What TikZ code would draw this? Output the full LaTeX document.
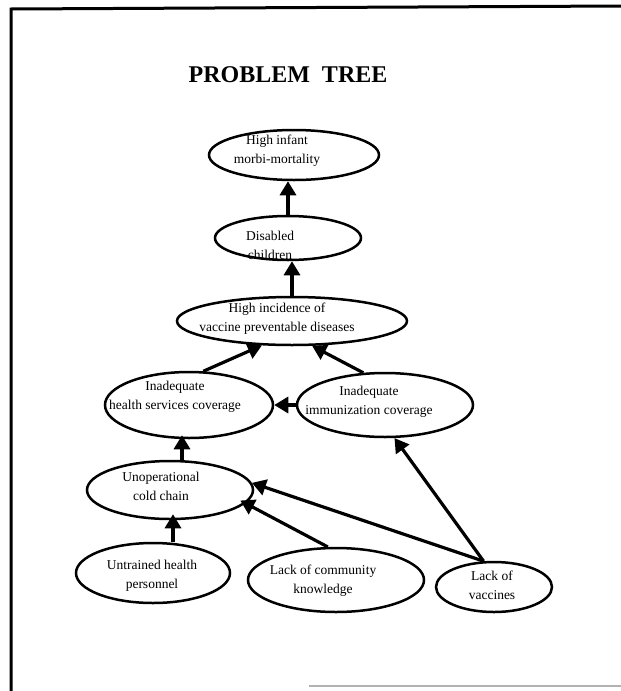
\documentclass[tikz,border=0pt]{standalone}
\usepackage{fontspec}
\setmainfont{Liberation Serif}
\usetikzlibrary{arrows.meta,shapes.geometric}
\begin{document}
\begin{tikzpicture}[x=1pt,y=-1pt,
  ell/.style={draw, ellipse, line width=2.5pt, inner sep=0pt},
  lbl/.style={font=\fontsize{13.5}{19}\selectfont, align=center, inner sep=0pt},
  arr/.style={line width=3.2pt, -{Triangle[length=14pt,width=16pt]}},
  ttl/.style={font=\fontsize{24}{28}\selectfont\bfseries, inner sep=0pt}
]
\useasboundingbox (0,0) rectangle (621,691);
% frame
\draw[line width=3pt] (11,691) -- (11,9) -- (621,6);
\draw[gray!60, line width=1.5pt] (309,686) -- (621,686);
% title
\node[ttl] (title) at (288,75) {PROBLEM\hspace{0.5em}TREE};
% ellipses
\node[ell, minimum width=170pt, minimum height=50pt] (inf) at (294,155) {};
\node[ell, minimum width=146pt, minimum height=44pt] (dis) at (288,238) {};
\node[ell, minimum width=230pt, minimum height=48pt] (hid) at (292,321) {};
\node[ell, minimum width=168pt, minimum height=66pt] (ihs) at (189,405) {};
\node[ell, minimum width=176pt, minimum height=64pt] (iic) at (385,405) {};
\node[ell, minimum width=166pt, minimum height=58pt] (unc) at (170,490) {};
\node[ell, minimum width=154pt, minimum height=60pt] (unt) at (153,573) {};
\node[ell, minimum width=176pt, minimum height=64pt] (lck) at (336,580) {};
\node[ell, minimum width=116pt, minimum height=50pt] (lvc) at (494,587) {};
% labels
\node[lbl] (tinf) at (277,151) {High infant\\morbi-mortality};
\node[lbl] (tdis) at (270,245) {Disabled\\children};
\node[lbl] (thid) at (277,319) {High incidence of\\vaccine preventable diseases};
\node[lbl] (tihs) at (175,397) {Inadequate\\health services coverage};
\node[lbl] (tiic) at (369,402) {Inadequate\\immunization coverage};
\node[lbl] (tunc) at (161,486) {Unoperational\\cold chain};
\node[lbl] (tunt) at (152,576) {Untrained health\\personnel};
\node[lbl] (tlck) at (323,581) {Lack of community\\knowledge};
\node[lbl] (tlvc) at (492,585) {Lack of\\vaccines};
% connectors
\draw[arr] (dis.north) -- (dis.north |- inf.south);
\draw[arr] (hid.north) -- (hid.north |- dis.south);
\draw[arr] (ihs.67) -- (hid.219);
\draw[arr] (iic.124) -- (hid.309);
\draw[arr] (iic.west) -- (ihs.east);
\draw[arr, shorten >=-4pt] ([xshift=12pt]unc.north) -- ([xshift=12pt]unc.north |- ihs.south);
\draw[arr, shorten >=-6pt] ([xshift=20pt]unt.north) -- ([xshift=20pt]unt.north |- unc.south);
\draw[arr, shorten >=-6pt] (lck.104) -- (unc.350);
\draw[arr] (lvc.112) -- (unc.5);
\draw[arr] (lvc.112) -- (iic.286);
\end{tikzpicture}
\end{document}
